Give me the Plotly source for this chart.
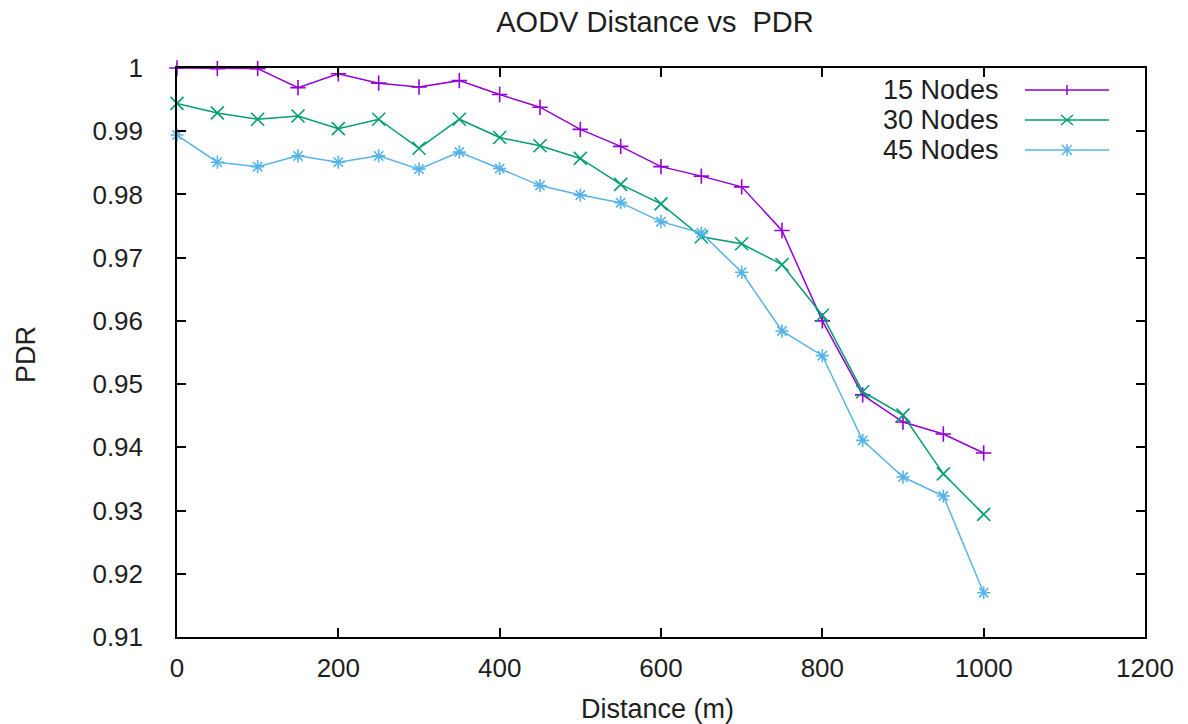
import plotly.graph_objects as go

distance = [0, 50, 100, 150, 200, 250, 300, 350, 400, 450, 500, 550, 600, 650, 700, 750, 800, 850, 900, 950, 1000]
pdr_15 = [1.0, 0.9999, 0.9999, 0.9969, 0.9991, 0.9976, 0.9970, 0.9980, 0.9958, 0.9938, 0.9903, 0.9876,
          0.9844, 0.9829, 0.9812, 0.9743, 0.9600, 0.9483, 0.9440, 0.9421, 0.9391]
pdr_30 = [0.9944, 0.9929, 0.9919, 0.9924, 0.9904, 0.9919, 0.9873, 0.9919, 0.9890, 0.9877, 0.9857, 0.9816,
          0.9785, 0.9733, 0.9722, 0.9689, 0.9609, 0.9488, 0.9451, 0.9358, 0.9294]
pdr_45 = [0.9894, 0.9851, 0.9844, 0.9861, 0.9851, 0.9861, 0.9840, 0.9867, 0.9841, 0.9814, 0.9799, 0.9787,
          0.9757, 0.9739, 0.9677, 0.9584, 0.9545, 0.9411, 0.9353, 0.9323, 0.9170]
series_names = ["15 Nodes", "30 Nodes", "45 Nodes"]
x_ticks = [0, 200, 400, 600, 800, 1000, 1200]
y_ticks = [0.91, 0.92, 0.93, 0.94, 0.95, 0.96, 0.97, 0.98, 0.99, 1.0]
y_tick_text = ["0.91", "0.92", "0.93", "0.94", "0.95", "0.96", "0.97", "0.98", "0.99", "1"]

colors = ["#9400d3", "#009e73", "#56b4e9"]
symbols = ["cross-thin", "x-thin", "asterisk"]
sizes = [11, 13, 11]
FONT = "Liberation Sans, Arial, sans-serif"
TXT = "#1e1e1e"

fig = go.Figure()
for name, ys, c, s, sz in zip(series_names, [pdr_15, pdr_30, pdr_45], colors, symbols, sizes):
    fig.add_trace(go.Scatter(
        x=distance, y=ys, name=name, mode="lines+markers",
        line=dict(color=c, width=1.5),
        marker=dict(symbol=s, size=sz, color=c, line=dict(color=c, width=1.6)),
        showlegend=False, cliponaxis=False,
    ))

# plot area in pixels
L, R, T, B = 177, 1145, 68, 637
W, H = 1188, 724


def px(x):
    return (x - L) / (R - L)


def py(y):
    return (B - y) / (B - T)


shapes = []
annotations = []
leg_y = [90, 120, 150]
for i, (name, c) in enumerate(zip(series_names, colors)):
    yy = leg_y[i]
    annotations.append(dict(text=name, x=px(1001), y=py(yy), xref="paper", yref="paper",
                            xanchor="right", yanchor="middle", showarrow=False,
                            font=dict(family=FONT, size=27, color=TXT)))
    shapes.append(dict(type="line", xref="paper", yref="paper", x0=px(1025), x1=px(1109),
                       y0=py(yy), y1=py(yy), line=dict(color=c, width=1.5)))
    cx = 1067
    if i == 0:
        segs = [(cx, yy - 5, cx, yy + 5)]
    elif i == 1:
        segs = [(cx - 6, yy - 5, cx + 6, yy + 5), (cx - 6, yy + 5, cx + 6, yy - 5)]
    else:
        segs = [(cx - 5, yy - 5, cx + 5, yy + 5), (cx - 5, yy + 5, cx + 5, yy - 5), (cx, yy - 6, cx, yy + 6)]
    for (a, b, cc, d) in segs:
        shapes.append(dict(type="line", xref="paper", yref="paper", x0=px(a), x1=px(cc),
                           y0=py(b), y1=py(d), line=dict(color=c, width=1.5)))

annotations.append(dict(text="Distance (m)", x=px(657), y=py(709), xref="paper", yref="paper",
                        xanchor="center", yanchor="middle", showarrow=False,
                        font=dict(family=FONT, size=27, color=TXT)))
annotations.append(dict(text="PDR", x=px(26), y=py(355), xref="paper", yref="paper",
                        xanchor="center", yanchor="middle", showarrow=False, textangle=-90,
                        font=dict(family=FONT, size=27, color=TXT)))

fig.update_layout(
    width=W, height=H,
    margin=dict(l=L, r=W - R, t=T, b=H - B, pad=0),
    paper_bgcolor="white", plot_bgcolor="white",
    title=dict(text="AODV Distance vs  PDR", x=px(655), xref="paper", xanchor="center",
               y=1 - 22 / H, yref="container", yanchor="middle",
               font=dict(family=FONT, size=29, color=TXT)),
    shapes=shapes, annotations=annotations,
    font=dict(family=FONT, size=26, color=TXT),
)
fig.update_xaxes(range=[0, 1200], tickvals=x_ticks, ticks="inside", ticklen=9, tickwidth=1.5,
                 tickcolor="black", showline=True, linecolor="black", linewidth=1.5, mirror="ticks",
                 showgrid=False, zeroline=False, ticklabelstandoff=7,
                 tickfont=dict(family=FONT, size=26, color=TXT))
fig.update_yaxes(range=[0.91, 1.0], tickvals=y_ticks, ticktext=y_tick_text, ticks="inside", ticklen=9,
                 tickwidth=1.5, tickcolor="black", showline=True, linecolor="black", linewidth=1.5,
                 mirror="ticks", showgrid=False, zeroline=False, ticklabelstandoff=27,
                 tickfont=dict(family=FONT, size=26, color=TXT))

fig.write_html("out.html", config={"displayModeBar": False},
               post_script="document.body.style.margin='0';document.body.style.overflow='hidden';")
